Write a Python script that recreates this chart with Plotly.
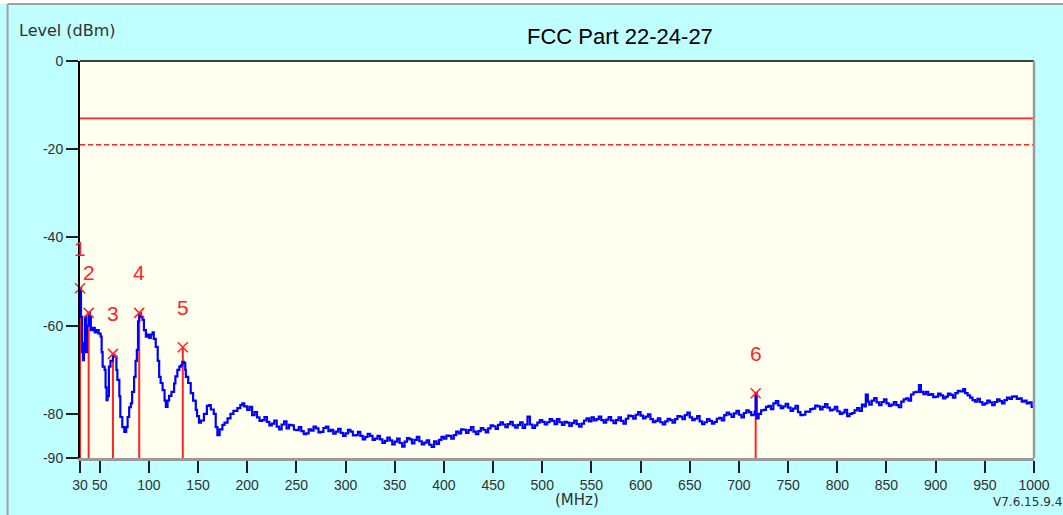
import plotly.graph_objects as go

# ---------------- data ----------------
# low band (30-200 MHz), digitised
freq_low = [
    30, 31, 32, 33, 34, 35, 36, 37, 38.8, 40, 41, 43, 45, 47, 49, 51, 52, 53, 55, 56,
    57, 58, 59.4, 61, 63.5, 65, 67, 68, 70, 71, 73, 75, 77, 78.4, 80, 81.7, 83, 85, 86.5, 87.8,
    89, 90.2, 92, 93.6, 95, 97, 99, 100.4, 102, 103.8, 105, 107, 109, 110.5, 112, 114, 116, 117.3, 119, 120.6,
    123, 125.7, 127, 129, 131, 132.5, 134, 135.9, 137, 137.6, 140, 142.6, 145, 147.7, 149, 151, 153, 156, 159, 161,
    163, 166, 168, 169.7, 172, 174.8, 177, 180, 183, 186, 190, 193, 195, 197,
]
level_low = [
    -51.5, -58.0, -66.0, -67.8, -64.0, -58.0, -66.0, -60.0, -57.1, -58.0, -61.0, -60.5, -61.5, -61.0, -61.8, -62.5, -66.0, -69.3, -70.0, -74.0,
    -76.9, -76.0, -69.3, -68.0, -66.6, -67.0, -70.0, -72.3, -76.0, -80.7, -83.0, -84.1, -83.0, -80.7, -78.5, -77.6, -75.0, -71.6, -68.0, -65.5,
    -59.0, -57.2, -58.0, -58.7, -61.0, -62.5, -62.0, -62.8, -62.0, -61.5, -63.0, -64.8, -68.0, -71.6, -73.0, -74.6, -77.0, -78.4, -77.0, -75.9,
    -75.0, -73.1, -71.5, -70.0, -69.3, -69.0, -68.2, -68.5, -70.0, -71.6, -73.0, -75.3, -77.0, -79.1, -80.5, -82.0, -81.5, -80.0, -78.2, -78.0,
    -79.0, -80.0, -83.0, -84.8, -83.5, -82.5, -82.0, -81.0, -80.0, -79.3, -78.7, -78.0, -77.6, -78.3,
]

freq_high = [
    200, 202.5, 205, 207.5, 210, 212.5, 215, 217.5, 220, 222.5,
    225, 227.5, 230, 232.5, 235, 237.5, 240, 242.5, 245, 247.5,
    250, 252.5, 255, 257.5, 260, 262.5, 265, 267.5, 270, 272.5,
    275, 277.5, 280, 282.5, 285, 287.5, 290, 292.5, 295, 297.5,
    300, 302.5, 305, 307.5, 310, 312.5, 315, 317.5, 320, 322.5,
    325, 327.5, 330, 332.5, 335, 337.5, 340, 342.5, 345, 347.5,
    350, 352.5, 355, 357.5, 360, 362.5, 365, 367.5, 370, 372.5,
    375, 377.5, 380, 382.5, 385, 387.5, 390, 392.5, 395, 397.5,
    400, 402.5, 405, 407.5, 410, 412.5, 415, 417.5, 420, 422.5,
    425, 427.5, 430, 432.5, 435, 437.5, 440, 442.5, 445, 447.5,
    450, 452.5, 455, 457.5, 460, 462.5, 465, 467.5, 470, 472.5,
    475, 477.5, 480, 482.5, 485, 487.5, 490, 492.5, 495, 497.5,
    500, 502.5, 505, 507.5, 510, 512.5, 515, 517.5, 520, 522.5,
    525, 527.5, 530, 532.5, 535, 537.5, 540, 542.5, 545, 547.5,
    550, 552.5, 555, 557.5, 560, 562.5, 565, 567.5, 570, 572.5,
    575, 577.5, 580, 582.5, 585, 587.5, 590, 592.5, 595, 597.5,
    600, 602.5, 605, 607.5, 610, 612.5, 615, 617.5, 620, 622.5,
    625, 627.5, 630, 632.5, 635, 637.5, 640, 642.5, 645, 647.5,
    650, 652.5, 655, 657.5, 660, 662.5, 665, 667.5, 670, 672.5,
    675, 677.5, 680, 682.5, 685, 687.5, 690, 692.5, 695, 697.5,
    700, 702.5, 705, 707.5, 710, 712.5, 714, 716, 717, 718,
    720, 722.5, 725, 727.5, 730, 732.5, 735, 737.5, 740, 742.5,
    745, 747.5, 750, 752.5, 755, 757.5, 760, 762.5, 765, 767.5,
    770, 772.5, 775, 777.5, 780, 782.5, 785, 787.5, 790, 792.5,
    795, 797.5, 800, 802.5, 805, 807.5, 810, 812.5, 815, 817.5,
    820, 822.5, 825, 827.5, 829, 831, 832.5, 835, 837.5, 840,
    842.5, 845, 847.5, 850, 852.5, 855, 857.5, 860, 862.5, 865,
    867.5, 870, 872.5, 875, 877.5, 880, 883, 885, 887.5, 890,
    892.5, 895, 897.5, 900, 902.5, 905, 907.5, 910, 912.5, 915,
    917.5, 920, 922.5, 925, 928, 930, 932.5, 935, 937.5, 940,
    942.5, 945, 947.5, 950, 952.5, 955, 957.5, 960, 962.5, 965,
    967.5, 970, 972.5, 975, 977.5, 980, 982.5, 985, 987.5, 990,
    992.5, 995, 997.6, 1000,
]
level_high = [
    -79.1, -78.4, -80.3, -79.6, -80.8, -81.6, -81.4, -80.7, -81.8, -82.6,
    -82.2, -81.5, -82.9, -83.5, -82.4, -81.7, -83.3, -82.5, -82.6, -83.6,
    -83.7, -83.0, -83.9, -84.6, -84.4, -83.5, -83.8, -82.9, -83.3, -84.2,
    -84.1, -83.2, -82.9, -83.9, -83.6, -84.5, -84.0, -83.4, -84.3, -85.0,
    -84.4, -83.6, -84.0, -84.9, -84.8, -84.1, -85.0, -85.8, -85.2, -84.5,
    -85.0, -85.9, -85.6, -85.0, -85.8, -86.6, -86.1, -85.4, -86.0, -86.9,
    -86.3, -85.6, -86.6, -87.4, -86.3, -85.5, -85.8, -86.7, -85.9, -85.2,
    -86.2, -86.9, -86.5, -86.0, -87.0, -87.5, -86.2, -86.8, -85.9, -85.2,
    -85.6, -84.9, -85.0, -85.6, -84.8, -84.0, -84.4, -83.5, -83.6, -84.3,
    -83.7, -83.0, -84.0, -84.6, -83.9, -83.2, -83.6, -84.2, -83.3, -82.6,
    -82.8, -83.4, -82.5, -81.9, -82.4, -83.0, -82.3, -81.8, -82.6, -83.1,
    -82.5, -81.9, -83.2, -82.4, -80.6, -82.4, -83.2, -82.6, -82.0, -81.4,
    -81.8, -82.4, -81.9, -81.2, -81.6, -82.3, -81.2, -81.9, -82.5, -81.8,
    -82.0, -82.7, -82.1, -81.5, -82.3, -82.9, -82.2, -81.5, -81.0, -81.7,
    -80.8, -81.5, -81.2, -80.6, -81.4, -82.0, -81.3, -80.7, -81.5, -82.1,
    -81.4, -80.8, -81.6, -82.2, -81.1, -80.4, -80.5, -81.1, -80.2, -79.6,
    -80.4, -81.0, -80.6, -80.1, -81.2, -81.9, -81.6, -81.0, -81.9, -82.4,
    -81.7, -81.1, -81.4, -82.0, -81.2, -80.5, -80.6, -81.2, -80.3, -79.7,
    -80.8, -81.4, -81.1, -80.5, -81.7, -82.3, -81.9, -81.2, -81.6, -82.2,
    -81.8, -81.1, -80.9, -81.5, -80.3, -79.7, -80.1, -80.7, -79.9, -79.3,
    -80.2, -80.8, -79.8, -79.2, -79.6, -80.3, -80.2, -79.5, -75.3, -81.0,
    -80.0, -79.2, -79.1, -78.4, -78.2, -78.9, -77.6, -77.1, -78.1, -78.7,
    -78.3, -77.7, -78.6, -79.3, -78.8, -78.2, -79.6, -80.3, -80.2, -79.5,
    -79.5, -78.9, -78.8, -78.1, -78.3, -79.0, -78.4, -77.8, -78.6, -79.2,
    -79.0, -78.4, -79.4, -80.0, -79.7, -79.1, -80.5, -80.0, -79.8, -79.2,
    -78.7, -79.3, -77.9, -78.3, -75.6, -77.2, -77.9, -77.0, -76.4, -77.4,
    -78.0, -77.3, -76.7, -77.6, -78.2, -77.9, -77.3, -78.0, -78.5, -77.2,
    -76.7, -76.5, -77.0, -75.6, -75.1, -75.0, -73.5, -75.0, -75.5, -75.0,
    -75.7, -75.5, -76.2, -76.1, -75.4, -75.8, -76.5, -76.1, -75.4, -75.7,
    -76.3, -75.3, -74.8, -74.9, -74.4, -75.3, -75.8, -76.3, -76.9, -77.2,
    -76.6, -77.3, -77.9, -77.6, -77.0, -77.4, -78.0, -77.3, -76.7, -77.1,
    -77.6, -76.9, -76.3, -76.6, -76.1, -76.0, -76.6, -76.5, -77.2, -77.0,
    -77.6, -77.4, -78.4, -77.2,
]

marker_labels = ["1", "2", "3", "4", "5", "6"]
marker_freq = [30.0, 38.8, 63.5, 90.2, 134.5, 717.0]
marker_level = [-51.5, -57.1, -66.4, -57.1, -64.9, -75.3]

limit_level = -13.0
margin_level = -19.0

x_range = [30, 1000]
y_range = [-90, 0]
x_ticks = [30, 50, 100, 150, 200, 250, 300, 350, 400, 450, 500, 550, 600, 650, 700, 750, 800, 850, 900, 950, 1000]
y_ticks = [0, -20, -40, -60, -80, -90]

title_text = "FCC Part 22-24-27"
y_title = "Level (dBm)"
x_title = "(MHz)"
version_text = "V7.6.15.9.4"

# ---------------- figure ----------------
RED = "#FF2424"
fig = go.Figure()

freq_mhz = freq_low + freq_high
level_dbm = level_low + level_high

# limit lines
fig.add_trace(go.Scatter(x=x_range, y=[limit_level, limit_level], mode="lines",
                         line=dict(color=RED, width=1.6), hoverinfo="skip", showlegend=False))
fig.add_trace(go.Scatter(x=x_range, y=[margin_level, margin_level], mode="lines",
                         line=dict(color=RED, width=1.4, dash="5px,3px"), hoverinfo="skip", showlegend=False))

# marker stems
stem_x, stem_y = [], []
for f, lv in zip(marker_freq, marker_level):
    stem_x += [f, f, None]
    stem_y += [y_range[0], lv, None]
fig.add_trace(go.Scatter(x=stem_x, y=stem_y, mode="lines", line=dict(color=RED, width=2),
                         hoverinfo="skip", showlegend=False, cliponaxis=False))

# trace
fig.add_trace(go.Scatter(x=freq_mhz, y=level_dbm, mode="lines",
                         line=dict(color="#0000FF", width=2.2, shape="hv"), showlegend=False))

# marker crosses
fig.add_trace(go.Scatter(x=marker_freq, y=marker_level, mode="markers",
                         marker=dict(symbol="x-thin", size=10, line=dict(color=RED, width=1.5), color=RED),
                         showlegend=False, cliponaxis=False))

for lab, f, lv in zip(marker_labels, marker_freq, marker_level):
    fig.add_annotation(x=f, y=lv, text=lab, showarrow=False, yshift=40,
                       font=dict(family="Liberation Sans, Arial", size=21, color=RED))

L, R, T, B = 79.5, 28.5, 61, 57
PW = 1063 - L - R
PH = 515 - T - B


def px(xpix):
    return (xpix - L) / PW


def py(ypix):
    return 1 - (ypix - T) / PH


# outer frame (cyan panel with gray border on top/left)
fig.add_shape(type="rect", xref="paper", yref="paper", x0=px(-5), x1=px(1070), y0=py(520), y1=py(4),
              fillcolor="#C0FFFF", line=dict(width=0), layer="below")
fig.add_shape(type="line", xref="paper", yref="paper", x0=px(7), x1=px(7), y0=py(520), y1=py(4),
              line=dict(color="#A0A0A0", width=2), layer="below")
fig.add_shape(type="line", xref="paper", yref="paper", x0=px(7), x1=px(1070), y0=py(4), y1=py(4),
              line=dict(color="#A0A0A0", width=2), layer="below")
# plot area background
fig.add_shape(type="rect", xref="paper", yref="paper", x0=0, x1=1, y0=0, y1=1,
              fillcolor="#FFFFF0", line=dict(width=0), layer="below")
# frame lines: top dark, right gray
fig.add_shape(type="line", xref="paper", yref="paper", x0=0, x1=1, y0=1, y1=1,
              line=dict(color="#404040", width=2))
fig.add_shape(type="line", xref="paper", yref="paper", x0=1, x1=1, y0=0, y1=1,
              line=dict(color="#9A9A9A", width=2.5))

TICKFONT = dict(family="Liberation Sans, Arial", size=14, color="#303030")

fig.update_xaxes(range=x_range, tickmode="array", tickvals=x_ticks, ticktext=[str(t) for t in x_ticks],
                 showgrid=False, zeroline=False, showline=True, linecolor="#9A9A9A", linewidth=2.5,
                 ticks="outside", ticklen=12, tickwidth=2, tickcolor="#202020", tickfont=TICKFONT)
fig.update_yaxes(range=y_range, tickmode="array", tickvals=y_ticks, ticktext=[str(t) for t in y_ticks],
                 showgrid=False, zeroline=False, showline=True, linecolor="#000000", linewidth=2,
                 ticks="outside", ticklen=12, tickwidth=2, tickcolor="#202020", tickfont=TICKFONT)

fig.add_annotation(xref="paper", yref="paper", x=px(620), y=py(36), text=title_text, showarrow=False,
                   xanchor="center", yanchor="middle",
                   font=dict(family="Liberation Sans, Arial", size=22, color="#000000"))
fig.add_annotation(xref="paper", yref="paper", x=px(16), y=py(30), text=y_title, showarrow=False,
                   xanchor="left", yanchor="middle",
                   font=dict(family="DejaVu Sans, Verdana", size=16, color="#303030"))
fig.add_annotation(xref="paper", yref="paper", x=px(577), y=py(500), text=x_title, showarrow=False,
                   xanchor="center", yanchor="middle",
                   font=dict(family="DejaVu Sans, Verdana", size=15, color="#303030"))
fig.add_annotation(xref="paper", yref="paper", x=px(991), y=py(502), text=version_text, showarrow=False,
                   xanchor="left", yanchor="middle",
                   font=dict(family="DejaVu Sans, Verdana", size=12, color="#303030"))

fig.update_layout(width=1063, height=515, margin=dict(l=L, r=R, t=T, b=B, pad=0),
                  paper_bgcolor="#FFFFFF", plot_bgcolor="#FFFFF0", showlegend=False,
                  font=dict(family="Liberation Sans, Arial"))

fig.write_html("out.html", config={"displayModeBar": False},
               post_script="document.body.style.margin='0px';")
